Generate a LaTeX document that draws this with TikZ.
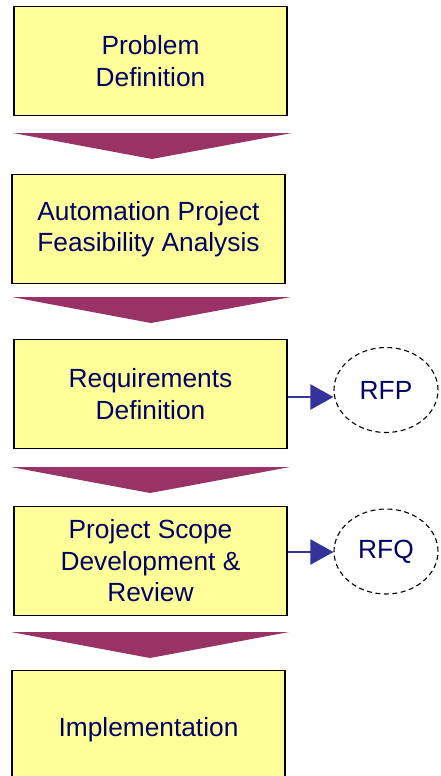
\documentclass[tikz,border=0pt]{standalone}
\usepackage{fontspec}
\setmainfont{Liberation Sans}
\usetikzlibrary{arrows.meta,shapes.geometric}
\definecolor{boxfill}{HTML}{FFFF99}
\definecolor{navytext}{HTML}{000066}
\definecolor{chevron}{HTML}{993366}
\definecolor{linkblue}{HTML}{333399}
\tikzset{
  stepbox/.style={draw=black, line width=1.3pt, fill=boxfill, text=navytext,
    minimum width=273pt, minimum height=109pt, align=center, inner sep=0pt,
    font=\fontsize{26.3}{31.5}\selectfont},
  docoval/.style={ellipse, draw=black, dashed, dash pattern=on 5pt off 3.5pt,
    line width=1.1pt, minimum width=104pt, minimum height=85pt, inner sep=0pt,
    text=navytext, font=\fontsize{26.3}{30}\selectfont},
  flowhead/.style={fill=chevron, draw=none},
  outlink/.style={draw=linkblue, line width=2.2pt,
    -{Triangle[length=23pt,width=25pt]}}
}
\begin{document}
\begin{tikzpicture}[x=1pt,y=-1pt]
\useasboundingbox (0,0) rectangle (440,776);
\begin{scope}
\clip (0,0) rectangle (440,776);
% process steps
\node[stepbox] (s1) at (150.5,61) {Problem\\Definition};
\node[stepbox] (s2) at (148.5,229) {Automation Project\\Feasibility Analysis};
\node[stepbox] (s3) at (150.5,394) {Requirements\\Definition};
\node[stepbox] (s4) at (150.5,561) {Project Scope\\Development \&\\Review};
\node[stepbox, minimum height=118pt] (s5) at (148.5,729.5) {Implementation};
% chevrons between steps
\fill[flowhead] (13,133) -- (292,133) -- (152,159) -- cycle;
\fill[flowhead] (12,297) -- (291,297) -- (151,323) -- cycle;
\fill[flowhead] (11,467) -- (290,467) -- (150,493) -- cycle;
\fill[flowhead] (11,632) -- (289,632) -- (150,658) -- cycle;
% request documents
\node[docoval] (rfp) at (386,390) {RFP};
\node[docoval] (rfq) at (386,551.5) {RFQ};
\draw[outlink] (s3.east |- 0,397) -- (rfp.west |- 0,397);
\draw[outlink] (s4.east |- 0,552) -- (rfq.west |- 0,552);
\end{scope}
\end{tikzpicture}
\end{document}
